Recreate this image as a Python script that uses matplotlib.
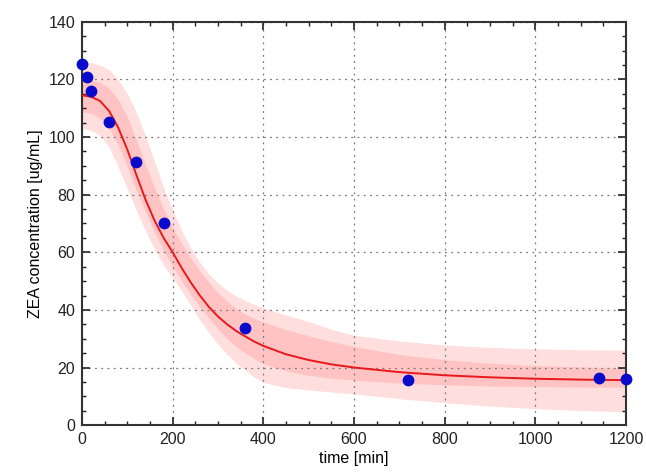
import matplotlib
matplotlib.use('Agg')
import matplotlib.pyplot as plt
from matplotlib.ticker import MultipleLocator

plt.rcParams['font.family'] = ['Liberation Sans', 'DejaVu Sans']

# measured concentrations
time_pts = [0, 10, 20, 60, 120, 180, 360, 720, 1140, 1200]
conc_pts = [125.4, 120.9, 116.0, 105.1, 91.2, 70.3, 33.6, 15.6, 16.2, 15.9]

# fitted model curve
fit_t = [0, 20, 40, 60, 80, 100, 120, 140, 160, 180, 200, 220, 240, 260, 280,
         300, 320, 340, 360, 380, 400, 450, 500, 550, 600, 700, 800, 900,
         1000, 1100, 1200]
fit_c = [114.5, 114, 112.5, 109, 103.2, 95.6, 86.8, 78.3, 71, 65, 60, 54.5,
         49.5, 45, 41, 37.7, 35, 32.7, 30.8, 29, 27.5, 24.6, 22.6, 21.1, 20,
         18.4, 17.3, 16.6, 16.1, 15.8, 15.6]

# inner band
inner_hi = [120, 119.8, 119, 117, 113, 107, 99, 90.5, 82.5, 75, 68.5, 63, 58,
            53.5, 49.5, 46, 43, 40.5, 38.5, 37, 35.8, 33.2, 31, 29, 27.3, 24.5,
            22.7, 21.5, 20.7, 20.2, 19.8]
inner_lo = [108.8, 108.3, 106.5, 103, 97, 89.5, 81.5, 74, 67, 60.5, 55, 50,
            45.3, 41, 37, 33.3, 30, 27.2, 25, 23, 21.3, 18.8, 17.3, 16.3, 15.6,
            14.6, 14, 13.6, 13.4, 13.2, 13.2]

# outer band
outer_hi = [126, 125.8, 125, 123.3, 120, 115, 108.5, 100.5, 91.5, 82.5, 74.5,
            67.5, 61.5, 56.5, 52.5, 49.3, 46.8, 44.8, 43.2, 41.9, 40.8, 38.2,
            36, 33.3, 31.2, 29.2, 27.8, 27, 26.5, 26.2, 26]
outer_lo = [103, 102.3, 100.5, 96.5, 89.5, 82, 74.5, 67.5, 61, 55.5, 51, 46.5,
            41.5, 36.5, 32, 28, 24.5, 21.5, 19, 16.7, 14.8, 13, 12.2, 11.5,
            10.8, 9.2, 7.8, 6.6, 5.7, 5.1, 4.6]

fig = plt.figure(figsize=(6.46, 4.75), dpi=100)
ax = fig.add_axes([0.127, 0.105, 0.842, 0.849])

ax.fill_between(fit_t, outer_lo, outer_hi, color='#ff0000', alpha=0.13, linewidth=0)
ax.fill_between(fit_t, inner_lo, inner_hi, color='#ff0000', alpha=0.12, linewidth=0)
ax.plot(fit_t, fit_c, color='#e8191c', linewidth=1.4, zorder=3)
ax.plot(time_pts, conc_pts, 'o', color='#0a0acd', markersize=8.5,
        markeredgewidth=0, zorder=4, clip_on=False)

ax.set_xlim(0, 1200)
ax.set_ylim(0, 140)
ax.xaxis.set_major_locator(MultipleLocator(200))
ax.xaxis.set_minor_locator(MultipleLocator(50))
ax.yaxis.set_major_locator(MultipleLocator(20))
ax.yaxis.set_minor_locator(MultipleLocator(5))

ax.grid(True, which='major', color='#7a7a7a', linestyle=(0, (1.5, 3.5)), linewidth=0.9)
ax.tick_params(which='both', direction='in', top=True, right=True,
               labelsize=11.5, colors='#222222')
ax.tick_params(which='major', length=6, width=1.2, pad=5)
ax.tick_params(which='minor', length=3, width=1.0)
for sp in ax.spines.values():
    sp.set_linewidth(1.5)
    sp.set_color('#333333')

ax.set_xlabel('time [min]', fontsize=11.5, labelpad=3)
ax.set_ylabel('ZEA concentration [ug/mL]', fontsize=11.5, labelpad=4)

fig.savefig('out.png', dpi=100)
